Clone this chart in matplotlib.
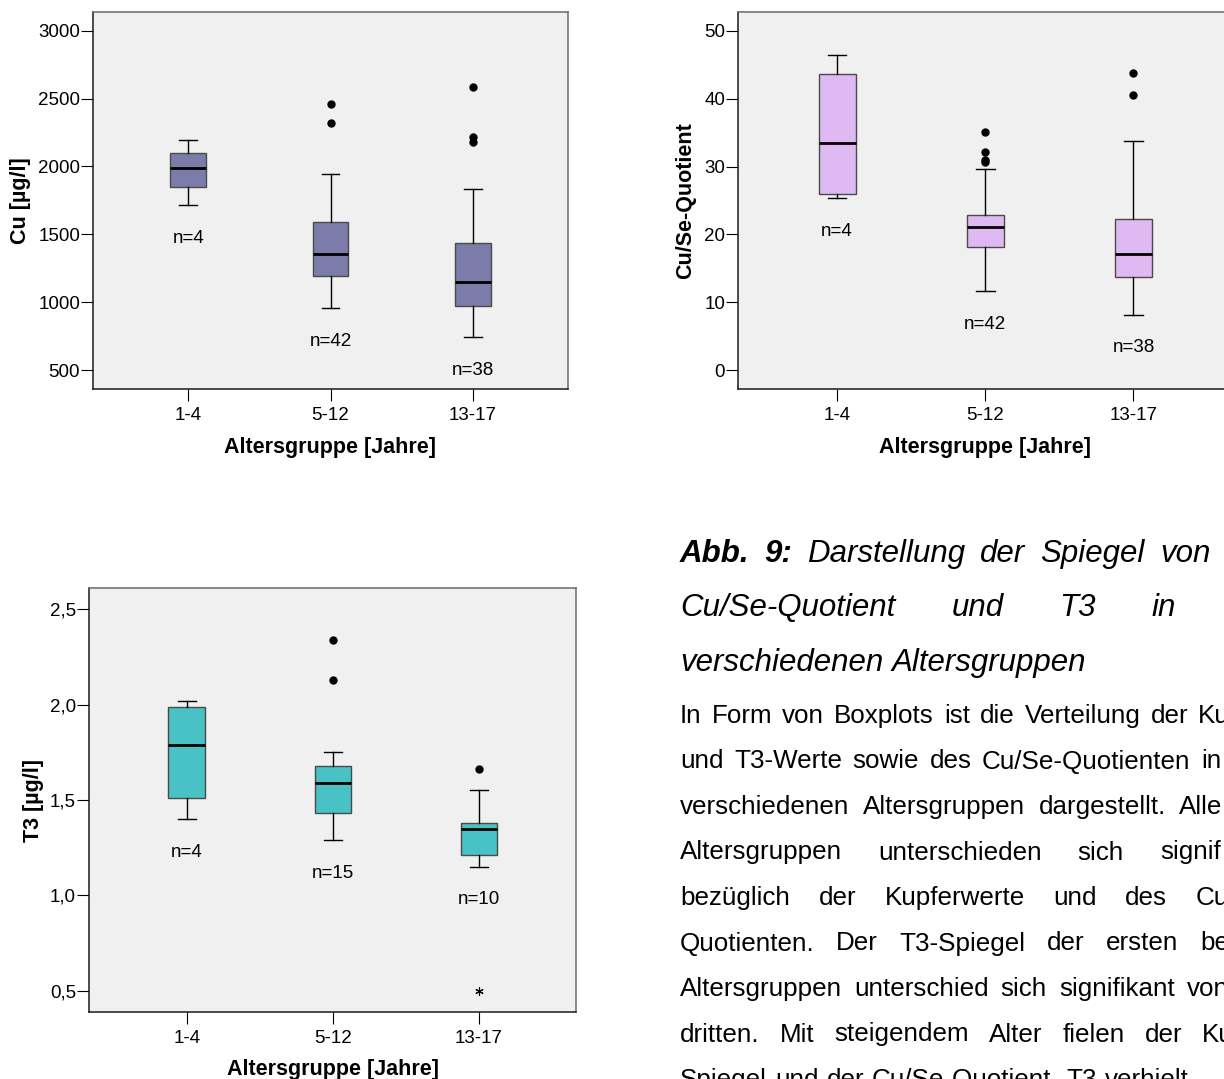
import matplotlib.pyplot as plt
import numpy as np

plt.rcParams['font.family'] = ['Liberation Sans', 'DejaVu Sans']

W, H = 1224, 1079

groups = ['1-4', '5-12', '13-17']

# Cu [µg/l]
cu_n = [4, 42, 38]
cu_whislo = [1718, 957, 743]
cu_q1 = [1851, 1195, 972]
cu_med = [1991, 1355, 1148]
cu_q3 = [2096, 1595, 1436]
cu_whishi = [2194, 1946, 1834]
cu_fliers = [[], [2317, 2460], [2182, 2214, 2587]]

# Cu/Se-Quotient
q_n = [4, 42, 38]
q_whislo = [25.4, 11.6, 8.2]
q_q1 = [25.9, 18.1, 13.8]
q_med = [33.5, 21.1, 17.1]
q_q3 = [43.6, 22.9, 22.3]
q_whishi = [46.4, 29.6, 33.7]
q_fliers = [[], [30.7, 31.0, 32.2, 35.1], [40.5, 43.7]]

# T3 [µg/l]
t3_n = [4, 15, 10]
t3_whislo = [1.40, 1.29, 1.15]
t3_q1 = [1.51, 1.43, 1.21]
t3_med = [1.79, 1.59, 1.35]
t3_q3 = [1.99, 1.68, 1.38]
t3_whishi = [2.02, 1.75, 1.55]
t3_fliers = [[], [2.13, 2.34], [1.66]]
t3_extremes = [[], [], [0.5]]

caption_lines = [
    ['Abb.', '9:', 'Darstellung', 'der', 'Spiegel', 'von'],
    ['Cu/Se-Quotient', 'und', 'T3', 'in'],
    ['verschiedenen', 'Altersgruppen'],
]
caption_gaps = [15, 56, 8.5]

body_lines = [
    'In Form von Boxplots ist die Verteilung der Ku',
    'und T3-Werte sowie des Cu/Se-Quotienten in',
    'verschiedenen Altersgruppen dargestellt. Alle',
    'Altersgruppen unterschieden sich signif',
    'bezüglich der Kupferwerte und des Cu',
    'Quotienten. Der T3-Spiegel der ersten be',
    'Altersgruppen unterschied sich signifikant von',
    'dritten. Mit steigendem Alter fielen der Ku',
    'Spiegel und der Cu/Se-Quotient. T3 verhielt',
]
body_gaps = [10, 10.5, 13.5, 36, 28.5, 21.5, 12, 20, 8]


def make_stats(lo, q1, med, q3, hi, fliers):
    return [dict(whislo=a, q1=b, med=c, q3=d, whishi=e, fliers=f)
            for a, b, c, d, e, f in zip(lo, q1, med, q3, hi, fliers)]


def boxpanel(ax, stats, ns, lo, color, ylim, yticks, ylabel, fmt=None):
    ax.set_facecolor('#f0f0f0')
    ax.bxp(stats, positions=range(len(stats)), widths=0.25, patch_artist=True,
           boxprops=dict(facecolor=color, edgecolor='#4a4a4a', linewidth=1.0),
           medianprops=dict(color='black', linewidth=2.0),
           whiskerprops=dict(color='black', linewidth=1.0),
           capprops=dict(color='black', linewidth=1.0),
           flierprops=dict(marker='o', markerfacecolor='black',
                           markeredgecolor='black', markersize=5))
    for i, (n, w) in enumerate(zip(ns, lo)):
        ax.annotate(f'n={n}', xy=(i, w), xytext=(0, -24),
                    textcoords='offset points', ha='center', va='center',
                    fontsize=13.5)
    ax.set_xlim(-0.667, 2.667)
    ax.set_ylim(*ylim)
    ax.set_yticks(yticks)
    if fmt:
        ax.set_yticklabels([fmt(v) for v in yticks])
    ax.set_xticks(range(len(groups)))
    ax.set_xticklabels(groups)
    ax.tick_params(axis='y', length=8.5, width=0.8, pad=1, labelsize=13.5)
    ax.tick_params(axis='x', length=8.5, width=0.8, pad=4, labelsize=13.5)
    for s in ['left', 'bottom']:
        ax.spines[s].set_color('#1a1a1a')
        ax.spines[s].set_linewidth(1.1)
    for s in ['top', 'right']:
        ax.spines[s].set_color('#6a6a6a')
        ax.spines[s].set_linewidth(1.1)
    ax.set_xlabel('Altersgruppe [Jahre]', fontsize=15.5, fontweight='bold')
    ax.set_ylabel(ylabel, fontsize=15.5, fontweight='bold')


fig = plt.figure(figsize=(W / 100, H / 100), dpi=100)
fig.patch.set_facecolor('white')

ax1 = fig.add_axes([93.3 / W, 1 - 389.3 / H, 474.4 / W, 377.3 / H])
boxpanel(ax1, make_stats(cu_whislo, cu_q1, cu_med, cu_q3, cu_whishi, cu_fliers),
         cu_n, cu_whislo, '#7b7ca9', (360, 3137), [500, 1000, 1500, 2000, 2500, 3000],
         'Cu [µg/l]')
ax1.yaxis.set_label_coords(-0.131, 0.5)
ax1.xaxis.set_label_coords(0.5, -0.126)

ax2 = fig.add_axes([738.3 / W, 1 - 389.3 / H, 494 / W, 377.3 / H])
boxpanel(ax2, make_stats(q_whislo, q_q1, q_med, q_q3, q_whishi, q_fliers),
         q_n, q_whislo, '#dfb9f1', (-2.8, 52.75), [0, 10, 20, 30, 40, 50],
         'Cu/Se-Quotient')
ax2.yaxis.set_label_coords(-0.086, 0.5)
ax2.xaxis.set_label_coords(0.5, -0.126)

ax3 = fig.add_axes([89.3 / W, 1 - 1012.3 / H, 487 / W, 424 / H])
boxpanel(ax3, make_stats(t3_whislo, t3_q1, t3_med, t3_q3, t3_whishi, t3_fliers),
         t3_n, t3_whislo, '#48c2c5', (0.386, 2.61), [0.5, 1.0, 1.5, 2.0, 2.5],
         'T3 [µg/l]', fmt=lambda v: f'{v:.1f}'.replace('.', ','))
for i, ex in enumerate(t3_extremes):
    if ex:
        ax3.plot([i] * len(ex), ex, ls='none', marker=(6, 2, 0), ms=6,
                 mec='black', mew=0.8)
ax3.yaxis.set_label_coords(-0.093, 0.5)
ax3.xaxis.set_label_coords(0.5, -0.111)

# text block on the right (justified, cut by the page edge as in the source)
renderer = fig.canvas.get_renderer()


def put_words(words, y_px, gap, size, bold_first=0, italic=True):
    x = 680
    for k, w in enumerate(words):
        t = fig.text(x / W, 1 - y_px / H, w, fontsize=size, va='baseline', ha='left',
                     style='italic' if italic else 'normal',
                     fontweight='bold' if k < bold_first else 'normal')
        x += t.get_window_extent(renderer).width + gap


for k, (words, gap) in enumerate(zip(caption_lines, caption_gaps)):
    put_words(words, 562 + 54.5 * k, gap, 22.5, bold_first=2 if k == 0 else 0)

for k, (line, gap) in enumerate(zip(body_lines, body_gaps)):
    put_words(line.split(' '), 723 + 45.5 * k, gap, 18.7, italic=False)

fig.savefig('out.png', dpi=100)
